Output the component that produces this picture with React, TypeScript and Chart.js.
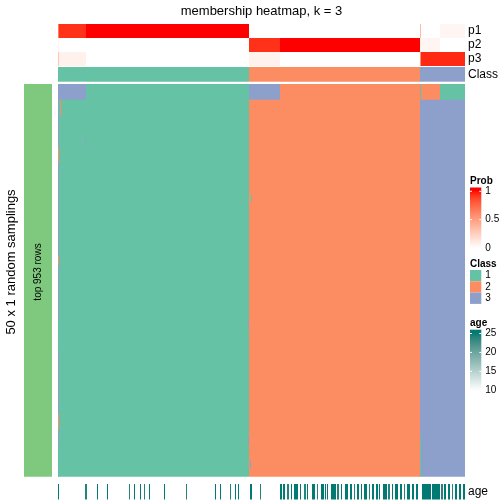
import React, { useEffect, useRef } from 'react';
import { Chart, registerables } from 'chart.js';

Chart.register(...registerables);

// ---------------- data ----------------
const chartTitle = 'membership heatmap, k = 3';
const rowTitle = '50 x 1 random samplings';
const rowGroupLabel = 'top 953 rows';
const nSamples = 407;
const nSamplings = 50;

// ordered sample groups (column ranges) and their membership probabilities
const groupStart = [0, 1, 28, 191, 222, 362, 363, 382];
const groupEnd = [1, 28, 191, 222, 362, 363, 382, 407];
const p1Values = [0.65, 0.93, 1, 0, 0, 0.35, 0, 0.05];
const p2Values = [0.05, 0, 0, 0.93, 1, 0.08, 0.05, 0];
const p3Values = [0.3, 0.07, 0, 0.07, 0, 0.57, 0.95, 0.95];
const groupClass = [1, 1, 1, 2, 2, 3, 3, 3];

// samplings where samples received another class
const flipStart = [1, 191, 362, 363, 382, 0, 0, 0, 0, 0, 0, 2, 27, 192, 193, 190, 190, 362];
const flipEnd = [28, 222, 363, 382, 407, 1, 1, 1, 1, 1, 1, 3, 28, 193, 194, 191, 191, 363];
const flipRowStart = [0, 0, 0, 0, 0, 0, 8, 22, 42, 30, 46, 2, 7, 48, 14, 30, 45, 45];
const flipRowEnd = [2, 2, 2, 2, 2, 50, 10, 23, 44, 34, 50, 4, 8, 49, 15, 31, 46, 50];
const flipClass = [3, 3, 1, 2, 1, 3, 2, 2, 2, 1, 1, 2, 3, 3, 1, 3, 3, 1];

// age annotation (runs of samples with known age)
const ageStart = [0, 27, 39, 49, 71, 76, 82, 86, 91, 106, 128, 157, 162, 172, 177, 180, 192, 202,
  222, 225, 229, 233, 236, 242, 246, 249, 254, 259, 263, 267, 269, 273, 279, 283, 287, 292, 296, 299,
  303, 306, 311, 314, 318, 321, 325, 330, 334, 337, 342, 346, 349, 354, 358, 364, 374, 383, 386, 390,
  394, 397, 401, 405];
const ageEnd = [1, 29, 40, 50, 72, 77, 83, 87, 92, 107, 129, 158, 163, 173, 178, 181, 194, 203,
  224, 227, 231, 234, 240, 243, 248, 250, 257, 260, 266, 268, 270, 278, 281, 284, 290, 294, 297, 301,
  304, 309, 312, 316, 320, 322, 329, 332, 335, 340, 344, 347, 352, 356, 360, 373, 382, 385, 388, 392,
  395, 399, 403, 407];
const ageValue = [25, 24, 25, 25, 24, 25, 25, 24, 25, 25, 24, 25, 25, 24, 25, 25, 25, 24,
  25, 25, 24, 25, 25, 25, 24, 25, 25, 24, 25, 25, 25, 25, 24, 25, 25, 25, 24, 25,
  25, 25, 24, 25, 25, 25, 25, 24, 25, 25, 25, 24, 25, 25, 25, 25, 25, 24, 25, 25,
  24, 25, 25, 25];

const annotationLabels = ['p1', 'p2', 'p3', 'Class', 'age'];
const probTicks = [0, 0.5, 1];
const ageTicks = [10, 15, 20, 25];
const classLegendLabels = ['1', '2', '3'];

// ---------------- styles / layout ----------------
const FONT = '"Liberation Sans", Arial, Helvetica, sans-serif';
const classColors: Record<number, string> = { 1: '#66C2A5', 2: '#FC8D62', 3: '#8DA0CB' };
const samplingBarColor = '#7FC97F';
const probHigh = [255, 0, 0];
const ageHigh = [0, 122, 114];
const white = [255, 255, 255];

// vertical layout in scale units (1 unit = 1 px)
const trackP1 = [24, 38];
const trackP2 = [38, 52];
const trackP3 = [52, 66];
const trackClass = [67, 81.7];
const trackMain = [84, 476.7];
const trackAge = [484, 499.5];
const barX = [-34, -6];

// colour helpers (LAB interpolation like colorRamp2)
function lin(c: number) { c /= 255; return c <= 0.04045 ? c / 12.92 : Math.pow((c + 0.055) / 1.055, 2.4); }
function delin(c: number) { const v = c <= 0.0031308 ? 12.92 * c : 1.055 * Math.pow(c, 1 / 2.4) - 0.055; return Math.round(Math.max(0, Math.min(1, v)) * 255); }
function toLab(rgb: number[]) {
  const R = lin(rgb[0]), G = lin(rgb[1]), B = lin(rgb[2]);
  const X = (0.4124 * R + 0.3576 * G + 0.1805 * B) / 0.95047;
  const Y = 0.2126 * R + 0.7152 * G + 0.0722 * B;
  const Z = (0.0193 * R + 0.1192 * G + 0.9505 * B) / 1.08883;
  const f = (t: number) => (t > 0.008856 ? Math.cbrt(t) : 7.787 * t + 16 / 116);
  return [116 * f(Y) - 16, 500 * (f(X) - f(Y)), 200 * (f(Y) - f(Z))];
}
function fromLab(lab: number[]) {
  const fy = (lab[0] + 16) / 116, fx = fy + lab[1] / 500, fz = fy - lab[2] / 200;
  const inv = (t: number) => (t * t * t > 0.008856 ? t * t * t : (t - 16 / 116) / 7.787);
  const X = inv(fx) * 0.95047, Y = inv(fy), Z = inv(fz) * 1.08883;
  const R = 3.2406 * X - 1.5372 * Y - 0.4986 * Z;
  const G = -0.9689 * X + 1.8758 * Y + 0.0415 * Z;
  const B = 0.0557 * X - 0.204 * Y + 1.057 * Z;
  return `rgb(${delin(R)},${delin(G)},${delin(B)})`;
}
function ramp(lo: number[], hi: number[], t: number) {
  t = Math.max(0, Math.min(1, t));
  const a = toLab(lo), b = toLab(hi);
  return fromLab([a[0] + (b[0] - a[0]) * t, a[1] + (b[1] - a[1]) * t, a[2] + (b[2] - a[2]) * t]);
}
const probColor = (p: number) => ramp(white, probHigh, p);
const ageColor = (a: number) => ramp(white, ageHigh, (a - 10) / 15);

function rect(x0: number, x1: number, y0: number, y1: number, color: string) {
  return {
    type: 'line',
    data: [{ x: x0, y: y0 }, { x: x1, y: y0 }],
    fill: { value: y1 },
    backgroundColor: color,
    borderColor: 'rgba(0,0,0,0)',
    borderWidth: 0,
    pointRadius: 0,
    pointHoverRadius: 0,
    pointHitRadius: 0,
  };
}

function buildDatasets() {
  const ds: any[] = [];
  const rowH = (trackMain[1] - trackMain[0]) / nSamplings;
  const rowY = (r: number) => trackMain[0] + r * rowH;
  ds.push(rect(barX[0], barX[1], trackMain[0], trackMain[1], samplingBarColor));
  const probs = [p1Values, p2Values, p3Values];
  const probTracks = [trackP1, trackP2, trackP3];
  groupStart.forEach((s, g) => {
    const e = groupEnd[g];
    probs.forEach((vals, k) => {
      if (vals[g] > 0) ds.push(rect(s, e, probTracks[k][0], probTracks[k][1], probColor(vals[g])));
    });
    ds.push(rect(s, e, trackClass[0], trackClass[1], classColors[groupClass[g]]));
    ds.push(rect(s, e, trackMain[0], trackMain[1], classColors[groupClass[g]]));
  });
  flipStart.forEach((s, i) => {
    ds.push(rect(s, flipEnd[i], rowY(flipRowStart[i]), rowY(flipRowEnd[i]), classColors[flipClass[i]]));
  });
  ageStart.forEach((s, i) => {
    ds.push(rect(s, ageEnd[i], trackAge[0], trackAge[1], ageColor(ageValue[i])));
  });
  // Chart.js paints the first dataset last (on top): reverse so later layers stay on top
  return ds.reverse();
}

const labelYs = [trackP1, trackP2, trackP3, trackClass, trackAge].map((t) => (t[0] + t[1]) / 2);

function drawColorBar(ctx: CanvasRenderingContext2D, title: string, titleY: number, top: number, bottom: number,
  yHi: number, yLo: number, ticks: number[], lo: number, hi: number, color: (v: number) => string) {
  const x = 470, w = 11.3;
  ctx.font = `bold 10px ${FONT}`;
  ctx.fillStyle = '#000';
  ctx.textAlign = 'left';
  ctx.textBaseline = 'middle';
  ctx.fillText(title, x, titleY);
  const grad = ctx.createLinearGradient(0, top, 0, bottom);
  const n = 24;
  for (let i = 0; i <= n; i++) {
    const py = top + ((bottom - top) * i) / n;
    const v = lo + ((yLo - py) / (yLo - yHi)) * (hi - lo);
    grad.addColorStop(i / n, color(Math.max(lo, Math.min(hi, v))));
  }
  ctx.fillStyle = grad;
  ctx.fillRect(x, top, w, bottom - top);
  ctx.font = `10px ${FONT}`;
  ticks.forEach((t) => {
    const py = yLo - ((t - lo) / (hi - lo)) * (yLo - yHi);
    ctx.strokeStyle = '#fff';
    ctx.lineWidth = 1;
    ctx.beginPath();
    ctx.moveTo(x, py); ctx.lineTo(x + 2, py);
    ctx.moveTo(x + w - 2, py); ctx.lineTo(x + w, py);
    ctx.stroke();
    ctx.fillStyle = '#000';
    ctx.fillText(String(t), x + w + 4, py);
  });
}

const overlayPlugin = {
  id: 'overlay',
  afterDraw(chart: any) {
    const { ctx, scales } = chart;
    const xs = scales.x, ys = scales.y;
    ctx.save();
    // title
    ctx.font = `13px ${FONT}`;
    ctx.fillStyle = '#000';
    ctx.textAlign = 'center';
    ctx.textBaseline = 'middle';
    ctx.fillText(chartTitle, (xs.getPixelForValue(0) + xs.getPixelForValue(nSamples)) / 2, 11);
    // label inside sampling bar
    ctx.save();
    ctx.translate(xs.getPixelForValue((barX[0] + barX[1]) / 2), ys.getPixelForValue(272));
    ctx.rotate(-Math.PI / 2);
    ctx.font = `10px ${FONT}`;
    ctx.fillText(rowGroupLabel, 0, 0);
    ctx.restore();
    // legends
    drawColorBar(ctx, 'Prob', 181, 187.5, 252, 191.3, 248, probTicks, 0, 1, probColor);
    ctx.font = `bold 10px ${FONT}`;
    ctx.fillStyle = '#000';
    ctx.textAlign = 'left';
    ctx.textBaseline = 'middle';
    ctx.fillText('Class', 470, 264);
    classLegendLabels.forEach((lab, i) => {
      const top = 270 + i * 11.3;
      ctx.fillStyle = classColors[i + 1];
      ctx.fillRect(470, top, 11.3, 11.3);
      ctx.fillStyle = '#000';
      ctx.font = `10px ${FONT}`;
      ctx.fillText(lab, 485.3, top + 5.65);
    });
    drawColorBar(ctx, 'age', 323, 329.7, 394, 333.5, 390.2, ageTicks, 10, 25, ageColor);
    ctx.restore();
  },
};

export default function App() {
  const ref = useRef<HTMLCanvasElement>(null);
  useEffect(() => {
    document.body.style.margin = '0';
    const canvas = ref.current!;
    const chart = new Chart(canvas, {
      type: 'line',
      data: { datasets: buildDatasets() as any },
      options: {
        animation: false,
        responsive: false,
        maintainAspectRatio: false,
        events: [],
        layout: { padding: { top: 24, bottom: 4, left: 0, right: 0 } },
        plugins: { legend: { display: false }, tooltip: { enabled: false }, title: { display: false } },
        scales: {
          x: { type: 'linear', min: barX[0], max: nSamples, display: false },
          y: {
            type: 'linear', position: 'right', min: 24, max: 500, reverse: true,
            grid: { display: false, drawTicks: false }, border: { display: false },
            afterBuildTicks: (s: any) => { s.ticks = labelYs.map((v) => ({ value: v })); },
            afterFit: (s: any) => { s.width = 39; s.paddingTop = 0; s.paddingBottom = 0; },
            ticks: {
              autoSkip: false, padding: 3, color: '#000', font: { family: FONT, size: 12 },
              callback: (_v: any, i: number) => annotationLabels[i],
            },
          },
          yL: {
            type: 'linear', axis: 'y', position: 'left', min: 0, max: 1,
            grid: { display: false, drawTicks: false }, border: { display: false }, ticks: { display: false },
            title: { display: true, text: rowTitle, color: '#000', font: { family: FONT, size: 13 } },
            afterFit: (s: any) => { s.width = 24; s.paddingTop = 0; s.paddingBottom = 0; },
          },
        },
      } as any,
      plugins: [overlayPlugin],
    });
    return () => chart.destroy();
  }, []);
  return (
    <div style={{ width: 504, height: 504 }}>
      <canvas ref={ref} width={504} height={504} style={{ width: 504, height: 504, display: 'block' }} />
    </div>
  );
}
